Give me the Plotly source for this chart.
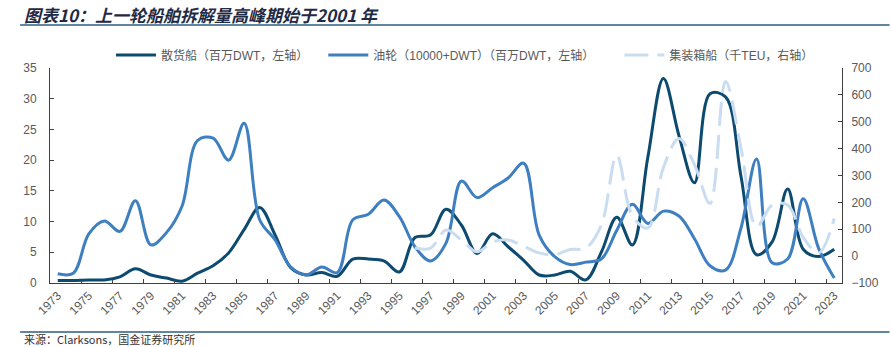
import plotly.graph_objects as go

years = [str(y) for y in range(1973, 2024)]

bulk = [0.4, 0.4, 0.5, 0.5, 1.0, 2.3, 1.3, 0.8, 0.3, 1.6,
        2.8, 4.9, 8.7, 12.3, 7.8, 2.5, 1.3, 1.7, 1.1, 3.9,
        3.9, 3.6, 1.8, 7.4, 7.8, 12.0, 9.4, 4.8, 8.0, 5.9,
        3.7, 1.3, 1.3, 1.9, 0.5, 5.0, 10.7, 6.2, 20.5, 33.3,
        24.0, 16.3, 30.8, 30.3, 17.3, 4.6, 6.7, 15.3, 5.5, 4.3,
        5.5]

oil = [1.5, 1.6, 8.0, 10.1, 8.4, 13.4, 6.2, 8.2, 12.5, 23.2,
       23.6, 20.0, 26.0, 10.3, 7.0, 2.6, 1.3, 2.6, 1.7, 10.3,
       11.2, 13.5, 10.8, 5.9, 3.6, 6.5, 16.6, 13.9, 15.5, 17.1,
       19.5, 7.8, 4.3, 3.0, 3.4, 3.9, 8.6, 12.8, 9.7, 11.7,
       10.9, 7.2, 2.8, 2.1, 9.0, 20.2, 3.3, 3.9, 13.7, 5.6,
       0.8]

container = [None] * 23 + [30, 30, 97, 60, 16, 53, 60, 37, 12, 5,
                           25, 30, 115, 375, 150, 105, 330, 438, 340, 196,
                           650, 400, 110, 190, 190, 70, 12, 140]

NB = "\u00a0"
names = ["散货船（百万DWT，左轴）" + NB * 3,
         "油轮（10000+DWT）（百万DWT，左轴）" + NB * 6,
         "集装箱船（千TEU，右轴）"]

FONT = "Liberation Sans, Arial, Noto Sans CJK SC"
GRAY = "#595959"
AXC = "#404040"

fig = go.Figure()
fig.add_trace(go.Scatter(x=years, y=bulk, name=names[0], mode="lines",
                         line=dict(color="#0D4A70", width=3, shape="spline", smoothing=1.0)))
fig.add_trace(go.Scatter(x=years, y=oil, name=names[1], mode="lines",
                         line=dict(color="#3E7FC1", width=3, shape="spline", smoothing=1.0)))
fig.add_trace(go.Scatter(x=years, y=container, name=names[2], mode="lines", yaxis="y2",
                         line=dict(color="#CADDF0", width=3, shape="spline", smoothing=1.0,
                                   dash="24px,9px")))

fig.update_layout(
    width=891, height=347,
    margin=dict(l=50, r=47, t=68, b=64),
    paper_bgcolor="white", plot_bgcolor="white",
    font=dict(family=FONT, size=12, color=GRAY),
    showlegend=True,
    legend=dict(orientation="h", x=0.077, xanchor="left", y=1.06, yanchor="middle",
                font=dict(size=12, color=GRAY), bgcolor="rgba(0,0,0,0)",
                itemwidth=40, tracegroupgap=0),
    xaxis=dict(type="category", range=[-0.5, 50.5], dtick=2, tickson="boundaries",
               ticks="inside", ticklen=4, tickcolor=AXC, tickangle=-45,
               showline=True, linecolor=AXC, linewidth=1, showgrid=False, zeroline=False,
               tickfont=dict(size=12, color=GRAY)),
    yaxis=dict(range=[0, 35], dtick=5, ticks="inside", ticklen=4, tickcolor=AXC,
               showline=True, linecolor=AXC, linewidth=1, showgrid=False, zeroline=False,
               ticklabelstandoff=10,
               tickfont=dict(size=12, color=GRAY)),
    yaxis2=dict(range=[-100, 700], dtick=100, overlaying="y", side="right",
                ticks="inside", ticklen=4, tickcolor=AXC,
                showline=True, linecolor=AXC, linewidth=1, showgrid=False, zeroline=False,
                ticklabelstandoff=6,
                tickfont=dict(size=12, color=GRAY)),
)

# title and source
fig.add_annotation(text="<i><b>图表10：上一轮船舶拆解量高峰期始于2001 年</b></i>",
                   xref="paper", yref="paper", x=-0.0353, y=1.251, xanchor="left", yanchor="middle",
                   showarrow=False, font=dict(family="Noto Sans CJK SC", size=17, color="#1F2A44"))
fig.add_annotation(text="来源：Clarksons，国金证券研究所",
                   xref="paper", yref="paper", x=-0.0353, y=-0.262, xanchor="left", yanchor="middle",
                   showarrow=False, font=dict(family="Noto Sans CJK SC", size=11, color="#333333"))
fig.add_shape(type="line", xref="paper", yref="paper", x0=-0.0378, x1=1.06, y0=1.2, y1=1.2,
              line=dict(color="#2B5C80", width=1.5))
fig.add_shape(type="line", xref="paper", yref="paper", x0=-0.0378, x1=1.06, y0=-0.228, y1=-0.228,
              line=dict(color="#2B5C80", width=1.5))

fig.write_html("out.html")
